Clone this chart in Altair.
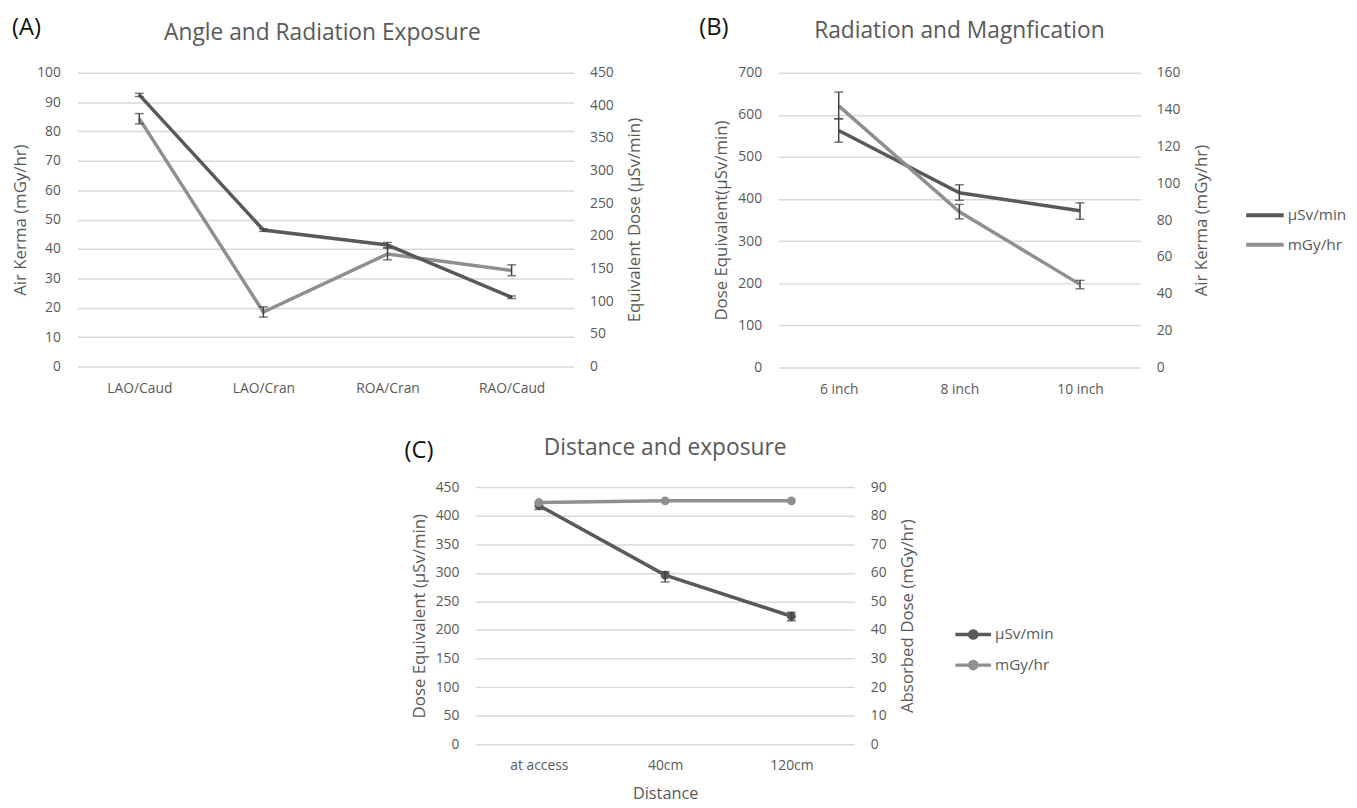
import altair as alt
import pandas as pd

FONT = "Open Sans"
DARK = "#595959"
GRAY = "#8f8f8f"
ERR = "#404040"
TXT = "#595959"
GRID = "#d9d9d9"

USV = "µSv/min"
MGY = "mGy/hr"

# ---------------- Panel A data ----------------
a_cats = ["LAO/Caud", "LAO/Cran", "ROA/Cran", "RAO/Caud"]
a_mgy = [84.4, 18.5, 38.3, 32.7]          # left axis (Air Kerma)
a_mgy_lo = [82.6, 16.8, 36.3, 30.9]
a_mgy_hi = [86.1, 20.3, 40.3, 34.6]
a_usv = [416, 209, 186, 106]              # right axis (Equivalent Dose)
a_usv_lo = [413.5, 207, 182, 104]
a_usv_hi = [418.5, 211, 190, 108]

# ---------------- Panel B data ----------------
b_cats = ["6 inch", "8 inch", "10 inch"]
b_usv = [563, 415, 372]                   # left axis (Dose Equivalent)
b_usv_lo = [535, 397, 352]
b_usv_hi = [591, 434, 391]
b_mgy = [142, 84.5, 45.1]                 # right axis (Air Kerma)
b_mgy_lo = [134.9, 80.7, 42.7]
b_mgy_hi = [149.5, 88.5, 47.3]

# ---------------- Panel C data ----------------
c_cats = ["at access", "40cm", "120cm"]
c_usv = [418, 296, 224]                   # left axis (Dose Equivalent)
c_usv_lo = [411, 284, 216]
c_usv_hi = [423, 302, 231]
c_mgy = [84.6, 85.2, 85.2]                # right axis (Absorbed Dose)


def xenc(cats):
    return alt.X("cat:N", sort=cats,
                 scale=alt.Scale(type="point", padding=0.5, domain=cats))


def side(cats, vals, lo, hi, series, color, dom, ticks, title, orient, grid,
         legend, points):
    d = {"cat": cats, "v": vals, "s": [series] * len(cats)}
    if lo is not None:
        d["lo"] = lo
        d["hi"] = hi
    df = pd.DataFrame(d)
    base = alt.Chart(df)
    xe = xenc(cats)
    if orient == "left":
        axis = alt.Axis(values=ticks, title=title, orient="left", grid=grid,
                        labelPadding=17, titlePadding=7, titleAngle=270)
    else:
        axis = alt.Axis(values=ticks, title=title, orient="right", grid=grid,
                        labelPadding=16, titlePadding=14, titleAngle=270,
                        titleBaseline="top")
    sc = alt.Scale(domain=dom, nice=False, zero=True)

    def Y(f):
        return alt.Y(f"{f}:Q", scale=sc, axis=axis)

    if legend is None:
        ce = alt.value(color)
    else:
        ce = alt.Color("s:N", scale=alt.Scale(domain=[USV, MGY],
                                              range=[DARK, GRAY]),
                       legend=legend)
    layers = [base.mark_line(strokeWidth=3.5).encode(x=xe, y=Y("v"), color=ce)]
    if points:
        layers.append(base.mark_circle(size=80, opacity=1).encode(
            x=xe, y=Y("v"), color=ce))
    if lo is not None:
        layers.append(base.mark_rule(color=ERR, strokeWidth=1.5).encode(
            x=xe, y=Y("lo"), y2="hi:Q"))
        layers.append(base.mark_tick(color=ERR, thickness=1.5, size=9).encode(
            x=xe, y=Y("lo")))
        layers.append(base.mark_tick(color=ERR, thickness=1.5, size=9).encode(
            x=xe, y=Y("hi")))
    return alt.layer(*layers)


def label_layer(text, x, y, size, color, align, baseline):
    return alt.Chart(pd.DataFrame({"t": [text]})).mark_text(
        align=align, baseline=baseline, font=FONT, fontSize=size,
        color=color).encode(x=alt.value(x), y=alt.value(y), text="t:N")


def xaxis_layer(cats, xtitle):
    df = pd.DataFrame({"cat": cats})
    ax = alt.Axis(title=xtitle, labelAngle=0, grid=False, labelPadding=15,
                  titlePadding=13, titleFontSize=16.5)
    return alt.Chart(df).mark_point(opacity=0).encode(
        x=alt.X("cat:N", sort=cats,
                scale=alt.Scale(type="point", padding=0.5, domain=cats),
                axis=ax))


def panel(cats, left, right, width, height, title, tag, tagx, tagy, titledx,
          titley, xtitle=None):
    return alt.layer(
        xaxis_layer(cats, xtitle), left, right,
        label_layer(title, width / 2 + titledx, titley, 23, TXT, "center",
                    "alphabetic"),
        label_layer(tag, tagx, tagy, 24, "#111111", "left", "middle"),
    ).resolve_scale(y="independent").properties(width=width, height=height)


# ---------------- Panel A ----------------
A_left = side(a_cats, a_mgy, a_mgy_lo, a_mgy_hi, MGY, GRAY, [0, 100],
              list(range(0, 101, 10)), "Air Kerma (mGy/hr)", "left", True,
              None, False)
A_right = side(a_cats, a_usv, a_usv_lo, a_usv_hi, USV, DARK, [0, 450],
               list(range(0, 451, 50)), "Equivalent Dose (µSv/min)", "right",
               False, None, False)
A = panel(a_cats, A_left, A_right, 502, 297, "Angle and Radiation Exposure",
          "(A)", -66, -45, -3, -33)

# ---------------- Panel B ----------------
legB = alt.Legend(title=None, orient="none", legendX=471, legendY=123,
                  symbolType="stroke", symbolStrokeWidth=4, symbolSize=1444,
                  labelFont=FONT, labelFontSize=15.5, labelColor=TXT,
                  labelOffset=2, rowPadding=-9)
B_left = side(b_cats, b_usv, b_usv_lo, b_usv_hi, USV, DARK, [0, 700],
              list(range(0, 701, 100)), "Dose Equivalent(µSv/min)", "left",
              True, legB, False)
B_right = side(b_cats, b_mgy, b_mgy_lo, b_mgy_hi, MGY, GRAY, [0, 160],
               list(range(0, 161, 20)), "Air Kerma (mGy/hr)", "right", False,
               legB, False)
B = panel(b_cats, B_left, B_right, 366, 298, "Radiation and Magnfication",
          "(B)", -80, -45, 0, -35)

# ---------------- Panel C ----------------
legC = alt.Legend(title=None, orient="none", legendX=483, legendY=129,
                  symbolType="M-1,0L1,0M-0.2,0a0.2,0.2 0 1,0 0.4,0a0.2,0.2 0 1,0 -0.4,0",
                  symbolStrokeWidth=3.5, symbolSize=1300,
                  labelFont=FONT, labelFontSize=15.5, labelColor=TXT,
                  labelOffset=2, rowPadding=-11)
C_left = side(c_cats, c_usv, c_usv_lo, c_usv_hi, USV, DARK, [0, 450],
              list(range(0, 451, 50)), "Dose Equivalent (µSv/min)", "left",
              True, legC, True)
C_right = side(c_cats, c_mgy, None, None, MGY, GRAY, [0, 90],
               list(range(0, 91, 10)), "Absorbed Dose (mGy/hr)", "right",
               False, legC, True)
C = panel(c_cats, C_left, C_right, 383, 260, "Distance and exposure",
          "(C)", -72, -36, 0, -32, xtitle="Distance")

spacer = alt.Chart(pd.DataFrame({"a": [0]})).mark_point(opacity=0).encode(
    x=alt.value(0), y=alt.value(0)).properties(width=331, height=10)

row1 = alt.hconcat(A, B, spacing=56).resolve_scale(
    color="independent").resolve_legend(color="independent")
row2 = alt.hconcat(spacer, C, spacing=0).resolve_scale(
    color="independent").resolve_legend(color="independent")

chart = alt.vconcat(row1, row2, spacing=42).resolve_scale(
    color="independent").resolve_legend(color="independent").properties(
    padding={"left": 3, "top": 4, "right": 2, "bottom": 0}
).configure_axis(
    labelFont=FONT, titleFont=FONT, labelFontSize=14, titleFontSize=17,
    labelColor=TXT, titleColor=TXT, titleFontWeight="normal",
    domain=False, ticks=False, gridColor=GRID, gridWidth=1.5
).configure_view(stroke=None)

chart.save("out.html", embed_options={"renderer": "svg", "actions": False})
